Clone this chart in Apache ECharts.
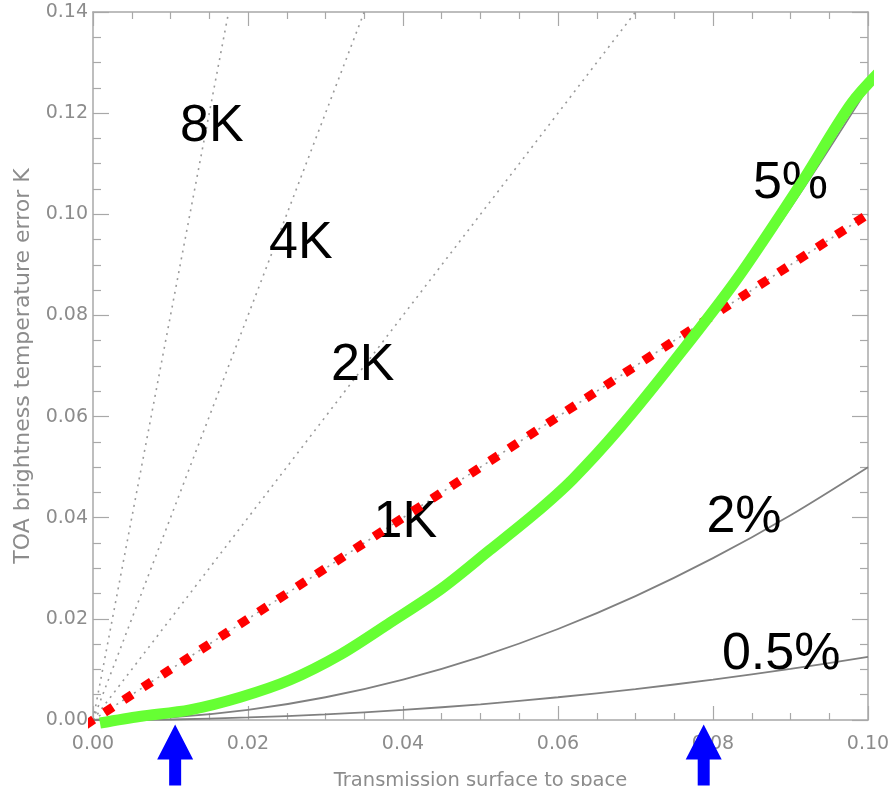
<!DOCTYPE html>
<html>
<head>
<meta charset="utf-8">
<script src="https://cdn.jsdelivr.net/npm/echarts@6/dist/echarts.min.js"></script>
<style>
html,body{margin:0;padding:0;background:#fff;}
#chart{width:888px;height:786px;}
</style>
</head>
<body>
<div id="chart"></div>
<script>
// ---- data ----
var xTicks = [0, 0.02, 0.04, 0.06, 0.08, 0.10];
var yTicks = [0, 0.02, 0.04, 0.06, 0.08, 0.10, 0.12, 0.14];

// straight dotted lines (constant brightness-temperature error)
var kLineNames = ['8K', '4K', '2K', '1K'];
var kLineEndX  = [0.0175, 0.035, 0.07, 0.10];
var kLineEndY  = [0.14, 0.14, 0.14, 0.10];

// solid curves (percent error)
var curveX      = [0, 0.01, 0.02, 0.03, 0.04, 0.05, 0.06, 0.07, 0.08, 0.09, 0.10];
var curve5pct   = [0, 0.0013, 0.005, 0.0113, 0.020, 0.0313, 0.045, 0.0613, 0.080, 0.1013, 0.125];
var curve2pct   = [0, 0.0005, 0.002, 0.0045, 0.008, 0.0125, 0.018, 0.0245, 0.032, 0.0405, 0.050];
var curveHalf   = [0, 0.0001, 0.0005, 0.0011, 0.002, 0.0031, 0.0045, 0.0061, 0.008, 0.0101, 0.0125];

// highlighted overlays
var greenX = [0.0009, 0.0060, 0.0125, 0.0190, 0.0254, 0.0320, 0.0383, 0.0450, 0.0512, 0.0570, 0.0619, 0.0680, 0.0751, 0.0830, 0.0914, 0.0979, 0.1026];
var greenY = [-0.0006, 0.0007, 0.0020, 0.0045, 0.0079, 0.0130, 0.0192, 0.0260, 0.0336, 0.0408, 0.0476, 0.0578, 0.0712, 0.0870, 0.1062, 0.1220, 0.1299];
var redX = [-0.001, 0.1003];
var redY = [-0.001, 0.1003];

// annotation labels
var labelNames = ['8K', '4K', '2K', '1K', '5%', '2%', '0.5%'];
var labelX = [0.01534, 0.02681, 0.0348, 0.0403, 0.0900, 0.0840, 0.0888];
var labelY = [0.1173, 0.0942, 0.0700, 0.0390, 0.1060, 0.0401, 0.0130];

// arrow markers below the x axis
var arrowX = [0.0106, 0.0788];

// ---- build ----
function pairs(xs, ys) { return xs.map(function (x, i) { return [x, ys[i]]; }); }

var axisColor = '#a8a8a8';
var labelFont = { color: '#8c8c8c', fontSize: 19, fontFamily: 'DejaVu Sans' };

function xAxisDef(pos, showLabel) {
  return {
    type: 'value', position: pos, min: 0, max: 0.1, interval: 0.02,
    axisLine: { show: true, onZero: false, lineStyle: { color: axisColor, width: 1.5 } },
    axisTick: { show: true, inside: true, length: 14, lineStyle: { color: axisColor, width: 1.2 } },
    minorTick: { show: true, splitNumber: 4, length: 7, lineStyle: { color: axisColor, width: 1.2 } },
    splitLine: { show: false },
    axisLabel: Object.assign({ show: showLabel, margin: 15, formatter: function (v) { return v.toFixed(2); } }, labelFont)
  };
}
function yAxisDef(pos, showLabel) {
  return {
    type: 'value', position: pos, min: 0, max: 0.14, interval: 0.02,
    axisLine: { show: true, onZero: false, lineStyle: { color: axisColor, width: 1.5 } },
    axisTick: { show: true, inside: true, length: 16, lineStyle: { color: axisColor, width: 1.2 } },
    minorTick: { show: true, splitNumber: 4, length: 8, lineStyle: { color: axisColor, width: 1.2 } },
    splitLine: { show: false },
    axisLabel: Object.assign({ show: showLabel, margin: 5, formatter: function (v) { return v.toFixed(2); } }, labelFont)
  };
}

var xMain = xAxisDef('bottom', true);
xMain.name = 'Transmission surface to space';
xMain.nameLocation = 'middle';
xMain.nameGap = 51;
xMain.nameMoveOverlap = false;
xMain.nameTextStyle = { color: '#8c8c8c', fontSize: 19.5, fontFamily: 'DejaVu Sans' };
var xTop = xAxisDef('top', false);

var yMain = yAxisDef('left', true);
yMain.name = 'TOA brightness temperature error K';
yMain.nameLocation = 'middle';
yMain.nameGap = 59;
yMain.nameMoveOverlap = false;
yMain.nameTextStyle = { color: '#8c8c8c', fontSize: 22, fontFamily: 'DejaVu Sans' };
var yRight = yAxisDef('right', false);

var series = [];
kLineNames.forEach(function (n, i) {
  series.push({
    name: n, type: 'line', xAxisIndex: 0, yAxisIndex: 0,
    data: [[0, 0], [kLineEndX[i], kLineEndY[i]]],
    showSymbol: false, symbol: 'none', silent: true, z: 2,
    lineStyle: { color: '#9a9a9a', width: 1.6, type: [2, 5] }
  });
});
[['5%', curve5pct], ['2%', curve2pct], ['0.5%', curveHalf]].forEach(function (c) {
  series.push({
    name: c[0] + ' curve', type: 'line', data: pairs(curveX, c[1]),
    smooth: 0.3, symbol: 'none', silent: true, z: 2,
    lineStyle: { color: '#808080', width: 1.8 }
  });
});
series.push({
  name: 'labels', type: 'scatter', z: 3, silent: true,
  symbol: 'circle', symbolSize: 1, itemStyle: { color: 'rgba(0,0,0,0)', opacity: 1 },
  data: labelNames.map(function (n, i) { return { name: n, value: [labelX[i], labelY[i]] }; }),
  label: { show: true, position: 'inside', formatter: '{b}', color: '#000000', opacity: 1,
           textBorderWidth: 0, fontSize: 52, fontFamily: 'Liberation Sans' }
});
series.push({
  name: 'red', type: 'line', data: pairs(redX, redY), clip: false, symbol: 'none', silent: true, z: 4,
  lineStyle: { color: '#ff0000', width: 9, type: [10, 13], cap: 'butt' }
});
series.push({
  name: 'green', type: 'line', data: pairs(greenX, greenY), clip: false, smooth: 0.3,
  symbol: 'none', silent: true, z: 5,
  lineStyle: { color: '#66ff33', width: 11, cap: 'butt' }
});
series.push({
  name: 'arrows', type: 'scatter', clip: false, silent: true, z: 6,
  symbol: 'path://M18,0 L36,35 L24,35 L24,61 L12,61 L12,35 L0,35 Z',
  symbolSize: [36, 61], symbolOffset: [0, 35],
  itemStyle: { color: '#0000ff', opacity: 1 },
  data: arrowX.map(function (x) { return [x, 0]; })
});

var chart = echarts.init(document.getElementById('chart'), null, { renderer: 'canvas' });
chart.setOption({
  animation: false,
  backgroundColor: '#ffffff',
  grid: { left: 93, right: 20, top: 12, bottom: 66, containLabel: false, outerBoundsMode: 'none' },
  xAxis: [xMain, xTop],
  yAxis: [yMain, yRight],
  series: series
});
</script>
</body>
</html>
